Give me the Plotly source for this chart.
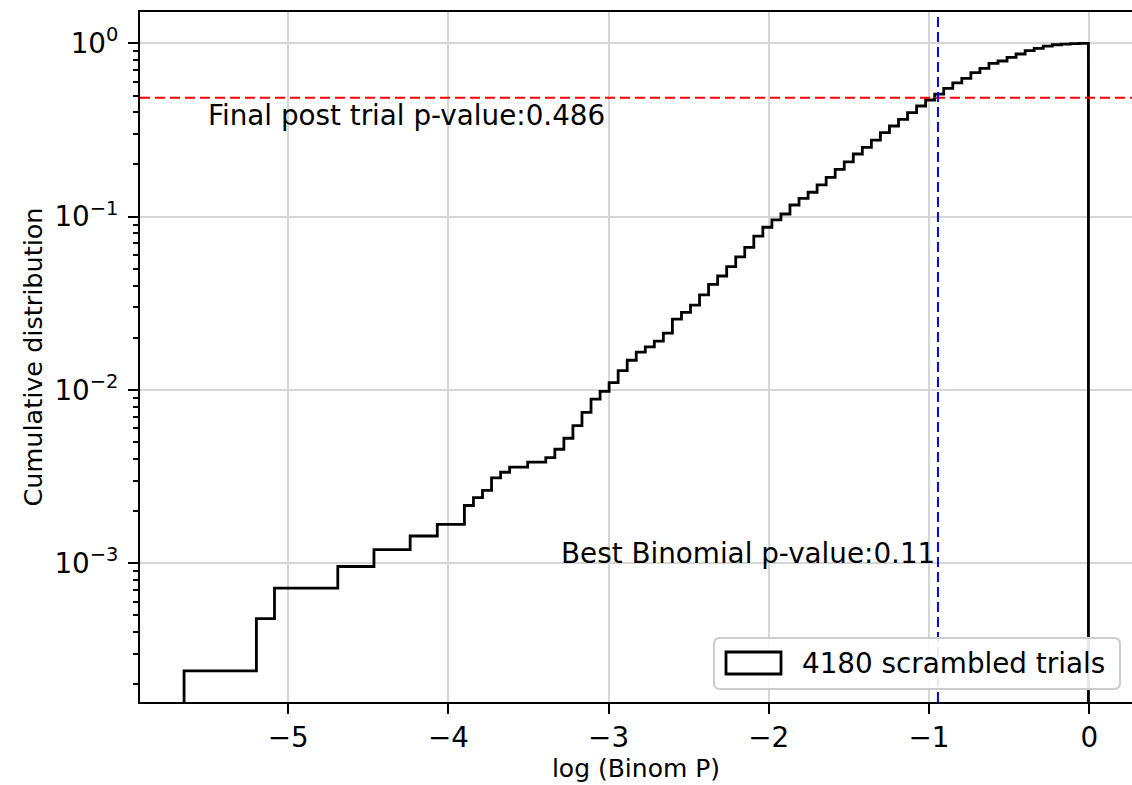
import numpy as np
import plotly.graph_objects as go

# ---------------- data ----------------
n_trials = 4180
x_min, x_max = -5.65, -0.005          # range of log10(Binom P) over the scrambled trials
# cumulative number of trials per histogram bin (100 bins)
cum_counts = [
    1, 1, 1, 1, 1, 1, 1, 1, 2, 2,
    3, 3, 3, 3, 3, 3, 3, 4, 4, 4,
    4, 5, 5, 5, 5, 6, 6, 6, 7, 7,
    7, 9, 10, 11, 13, 14, 15, 15, 16, 16,
    17, 19, 22, 26, 31, 37, 41, 46, 54, 62,
    69, 74, 80, 89, 107, 117, 129, 148, 170, 190,
    215, 245, 278, 323, 363, 400, 433, 488, 533, 578,
    637, 705, 784, 865, 961, 1050, 1157, 1275, 1394, 1523,
    1664, 1818, 1969, 2132, 2300, 2470, 2627, 2830, 3000, 3206,
    3306, 3472, 3630, 3794, 3910, 4033, 4105, 4135, 4160, 4180,
]
post_trial_p = 0.486
best_binom_p = 0.1137
best_label = "0.11"
x_ticks = [-5, -4, -3, -2, -1, 0]
x_ticktext = ["\u22125", "\u22124", "\u22123", "\u22122", "\u22121", "0"]
y_ticks = [1e-3, 1e-2, 1e-1, 1e0]
y_ticktext = ["10<sup>\u22123</sup>", "10<sup>\u22122</sup>", "10<sup>\u22121</sup>", "10<sup>0</sup>"]
legend_label = f"{n_trials} scrambled trials"

# ---------------- layout constants ----------------
W, H = 1132, 785
L, R, T, B = 140, 0, 12, 83
PW, PH = W - L - R, H - T - B
FONT = "DejaVu Sans"
FS = 27.8
x_range = [-5.925, 0.267]
y_range = [-3.801, 0.181]
baseline = 1e-8


def px(xp):
    return (xp - L) / PW


def py(yp):
    return (H - B - yp) / PH


# step outline of the cumulative histogram
edges = np.linspace(x_min, x_max, len(cum_counts) + 1)
frac = np.array(cum_counts, dtype=float) / n_trials
xs = np.concatenate([[edges[0]], edges, [edges[-1]]])
ys = np.concatenate([[baseline], frac, [frac[-1]], [baseline]])

fig = go.Figure()
fig.add_trace(go.Scatter(
    x=xs, y=ys, mode="lines", line=dict(color="black", width=2.8, shape="hv"),
    showlegend=False, hoverinfo="skip",
))

shapes = []
# reference lines
shapes.append(dict(type="line", xref="paper", yref="y", x0=0, x1=1,
                   y0=post_trial_p, y1=post_trial_p,
                   line=dict(color="red", width=2, dash="10px,5px"), layer="above"))
shapes.append(dict(type="line", xref="x", yref="paper",
                   x0=np.log10(best_binom_p), x1=np.log10(best_binom_p), y0=0, y1=1,
                   line=dict(color="blue", width=2, dash="10px,5px"), layer="above"))

# custom legend (frame + patch)
lx0, lx1, ly0, ly1 = 714, 1120, 638, 689
r = 6


def rounded_path(x0, x1, y0, y1, rr):
    pts = []
    X = lambda v: px(v)
    Y = lambda v: py(v)
    pts.append(f"M {X(x0 + rr)},{Y(y0)}")
    pts.append(f"L {X(x1 - rr)},{Y(y0)}")
    pts.append(f"Q {X(x1)},{Y(y0)} {X(x1)},{Y(y0 + rr)}")
    pts.append(f"L {X(x1)},{Y(y1 - rr)}")
    pts.append(f"Q {X(x1)},{Y(y1)} {X(x1 - rr)},{Y(y1)}")
    pts.append(f"L {X(x0 + rr)},{Y(y1)}")
    pts.append(f"Q {X(x0)},{Y(y1)} {X(x0)},{Y(y1 - rr)}")
    pts.append(f"L {X(x0)},{Y(y0 + rr)}")
    pts.append(f"Q {X(x0)},{Y(y0)} {X(x0 + rr)},{Y(y0)}")
    pts.append("Z")
    return " ".join(pts)


shapes.append(dict(type="path", xref="paper", yref="paper",
                   path=rounded_path(lx0, lx1, ly0, ly1, r),
                   fillcolor="rgba(255,255,255,0.9)",
                   line=dict(color="#cccccc", width=2), layer="above"))
shapes.append(dict(type="rect", xref="paper", yref="paper",
                   x0=px(726), x1=px(781), y0=py(652), y1=py(674),
                   fillcolor="white", line=dict(color="black", width=2.8), layer="above"))

annotations = [
    dict(text=legend_label, xref="paper", yref="paper", x=px(800), y=py(663),
         xanchor="left", yanchor="middle", showarrow=False,
         font=dict(family=FONT, size=FS, color="black")),
    dict(text=f"Final post trial p-value:{post_trial_p}", xref="x", yref="paper",
         x=-5.51, y=py(116), xanchor="left", yanchor="middle", showarrow=False,
         font=dict(family=FONT, size=FS, color="black")),
    dict(text=f"Best Binomial p-value:{best_label}", xref="x", yref="paper",
         x=-0.95, y=py(553), xanchor="right", yanchor="middle", showarrow=False,
         font=dict(family=FONT, size=FS, color="black")),
]

# minor ticks on the log axis
minor_vals = [m * 10.0 ** d for d in range(-4, 1) for m in range(2, 10)]

fig.update_layout(
    width=W, height=H,
    margin=dict(l=L, r=R, t=T, b=B, pad=0),
    paper_bgcolor="white", plot_bgcolor="white",
    font=dict(family=FONT, size=FS, color="black"),
    showlegend=False,
    shapes=shapes,
    annotations=annotations,
    xaxis=dict(
        range=x_range, tickmode="array", tickvals=x_ticks, ticktext=x_ticktext,
        showgrid=True, gridcolor="#d6d6d6", gridwidth=1.6, zeroline=False,
        showline=True, linecolor="black", linewidth=2, mirror=True,
        ticks="outside", ticklen=10, tickwidth=2, tickcolor="black",
        tickfont=dict(family=FONT, size=FS),
        title=dict(text="log (Binom P)", font=dict(family=FONT, size=25), standoff=6),
    ),
    yaxis=dict(
        type="log", range=y_range, tickmode="array", tickvals=y_ticks, ticktext=y_ticktext,
        showgrid=True, gridcolor="#d6d6d6", gridwidth=1.6, zeroline=False,
        showline=True, linecolor="black", linewidth=2, mirror=False,
        ticks="outside", ticklen=10, tickwidth=2, tickcolor="black",
        tickfont=dict(family=FONT, size=FS), ticklabelstandoff=4,
        minor=dict(tickmode="array", tickvals=minor_vals, ticks="outside",
                   ticklen=5, tickwidth=1.5, tickcolor="black", showgrid=False),
        title=dict(text="Cumulative distribution", font=dict(family=FONT, size=25.5), standoff=4),
    ),
)

fig.write_html("out.html")
